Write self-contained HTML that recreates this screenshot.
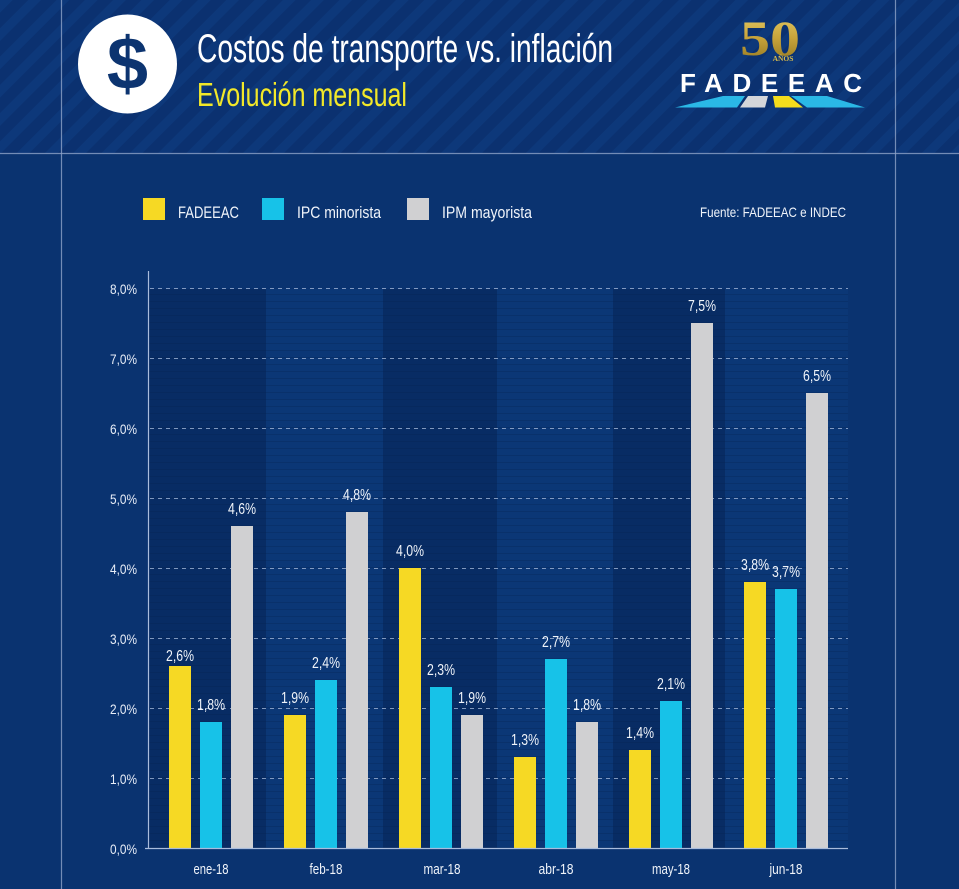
<!DOCTYPE html>
<html><head><meta charset="utf-8">
<style>
html,body{margin:0;padding:0;background:#0a3370;}
svg{display:block;}
text{font-family:"Liberation Sans Narrow","Liberation Sans",sans-serif;}
</style></head>
<body>
<svg width="959" height="889" viewBox="0 0 959 889" xmlns="http://www.w3.org/2000/svg">
<defs>
<pattern id="stripes" patternUnits="userSpaceOnUse" width="20" height="20" patternTransform="rotate(45)">
<rect width="20" height="20" fill="#0b3170"/>
<rect width="9" height="20" fill="#0d387a"/>
</pattern>
<pattern id="scan" patternUnits="userSpaceOnUse" width="10" height="7">
<rect y="0" width="10" height="1" fill="#04204d" opacity="0.25"/>
</pattern>
<linearGradient id="gold" x1="0" y1="0" x2="0" y2="1">
<stop offset="0" stop-color="#e8cf6a"/>
<stop offset="0.5" stop-color="#c7a33a"/>
<stop offset="1" stop-color="#8f7420"/>
</linearGradient>
</defs>
<rect width="959" height="889" fill="#0a3370"/>
<rect width="959" height="153" fill="url(#stripes)"/>
<line x1="0" y1="153.5" x2="959" y2="153.5" stroke="#8ea3c8" stroke-width="1.2" opacity="0.8"/>
<line x1="61.5" y1="0" x2="61.5" y2="889" stroke="#8ea3c8" stroke-width="1.2" opacity="0.8"/>
<line x1="895.5" y1="0" x2="895.5" y2="889" stroke="#8ea3c8" stroke-width="1.2" opacity="0.8"/>

<circle cx="127.5" cy="64" r="49.5" fill="#ffffff"/>
<text x="127.5" y="89" font-weight="bold" font-size="74" fill="#0c3470" text-anchor="middle" style="font-family:'Liberation Sans',sans-serif">$</text>

<text x="197" y="62" font-size="40" fill="#ffffff" textLength="416" lengthAdjust="spacingAndGlyphs">Costos de transporte vs. inflación</text>
<text x="197" y="106" font-size="33" fill="#f2e829" textLength="210" lengthAdjust="spacingAndGlyphs">Evolución mensual</text>

<text x="770" y="55" font-size="50" font-weight="bold" fill="url(#gold)" text-anchor="middle" textLength="60" lengthAdjust="spacingAndGlyphs" style="font-family:'Liberation Serif',serif">50</text>
<text x="783" y="61" font-size="7.5" fill="#d8bb4c" text-anchor="middle" style="font-family:'Liberation Serif',serif;font-weight:bold">AÑOS</text>
<text x="680" y="92" font-size="26" font-weight="bold" fill="#ffffff" textLength="182" lengthAdjust="spacing" style="font-family:'Liberation Sans',sans-serif">FADEEAC</text>
<polygon points="675,107.5 737,107.5 745,96 723,96" fill="#2ab8e6"/>
<polygon points="740,107.5 765,107.5 768,96 748,96" fill="#d4d6da"/>
<polygon points="775,107.5 803,107.5 789,96 773,96" fill="#f4dd1c"/>
<polygon points="807,107.5 865,107.5 827,96 791,96" fill="#2ab8e6"/>

<rect x="143" y="198" width="22" height="22" fill="#f6d924"/>
<text x="178" y="218" font-size="17" fill="#f0f4fa" textLength="61" lengthAdjust="spacingAndGlyphs" style="font-family:'Liberation Sans',sans-serif">FADEEAC</text>
<rect x="262" y="198" width="22" height="22" fill="#17c2e8"/>
<text x="297" y="218" font-size="17" fill="#f0f4fa" textLength="84" lengthAdjust="spacingAndGlyphs" style="font-family:'Liberation Sans',sans-serif">IPC minorista</text>
<rect x="407" y="198" width="22" height="22" fill="#d0d0d2"/>
<text x="442" y="218" font-size="17" fill="#f0f4fa" textLength="90" lengthAdjust="spacingAndGlyphs" style="font-family:'Liberation Sans',sans-serif">IPM mayorista</text>
<text x="846" y="217" font-size="14" fill="#f0f4fa" text-anchor="end" textLength="146" lengthAdjust="spacingAndGlyphs" style="font-family:'Liberation Sans',sans-serif">Fuente: FADEEAC e INDEC</text>

<rect x="148" y="289" width="118" height="559" fill="#082c64"/>
<rect x="266" y="289" width="117" height="559" fill="#0b3776"/>
<rect x="383" y="289" width="114" height="559" fill="#082c64"/>
<rect x="497" y="289" width="116" height="559" fill="#0b3776"/>
<rect x="613" y="289" width="112" height="559" fill="#082c64"/>
<rect x="725" y="289" width="123" height="559" fill="#0b3776"/>
<rect x="148" y="289" width="700" height="559" fill="url(#scan)"/>

<g stroke="#a9bcdc" stroke-width="1" stroke-dasharray="4 4" opacity="0.75">
<line x1="150" y1="288.5" x2="848" y2="288.5"/>
<line x1="150" y1="358.5" x2="848" y2="358.5"/>
<line x1="150" y1="428.5" x2="848" y2="428.5"/>
<line x1="150" y1="498.5" x2="848" y2="498.5"/>
<line x1="150" y1="568.5" x2="848" y2="568.5"/>
<line x1="150" y1="638.5" x2="848" y2="638.5"/>
<line x1="150" y1="708.5" x2="848" y2="708.5"/>
<line x1="150" y1="778.5" x2="848" y2="778.5"/>
</g>

<g font-size="14" fill="#e8eef8" text-anchor="end">
<text x="137" y="294" textLength="27" lengthAdjust="spacingAndGlyphs">8,0%</text>
<text x="137" y="364" textLength="27" lengthAdjust="spacingAndGlyphs">7,0%</text>
<text x="137" y="434" textLength="27" lengthAdjust="spacingAndGlyphs">6,0%</text>
<text x="137" y="504" textLength="27" lengthAdjust="spacingAndGlyphs">5,0%</text>
<text x="137" y="574" textLength="27" lengthAdjust="spacingAndGlyphs">4,0%</text>
<text x="137" y="644" textLength="27" lengthAdjust="spacingAndGlyphs">3,0%</text>
<text x="137" y="714" textLength="27" lengthAdjust="spacingAndGlyphs">2,0%</text>
<text x="137" y="784" textLength="27" lengthAdjust="spacingAndGlyphs">1,0%</text>
<text x="137" y="854" textLength="27" lengthAdjust="spacingAndGlyphs">0,0%</text>
</g>

<g>
<rect x="169" y="666" width="22" height="182" fill="#f6d924"/>
<rect x="200" y="722" width="22" height="126" fill="#17c2e8"/>
<rect x="231" y="526" width="22" height="322" fill="#d0d0d2"/>
<rect x="284" y="715" width="22" height="133" fill="#f6d924"/>
<rect x="315" y="680" width="22" height="168" fill="#17c2e8"/>
<rect x="346" y="512" width="22" height="336" fill="#d0d0d2"/>
<rect x="399" y="568" width="22" height="280" fill="#f6d924"/>
<rect x="430" y="687" width="22" height="161" fill="#17c2e8"/>
<rect x="461" y="715" width="22" height="133" fill="#d0d0d2"/>
<rect x="514" y="757" width="22" height="91" fill="#f6d924"/>
<rect x="545" y="659" width="22" height="189" fill="#17c2e8"/>
<rect x="576" y="722" width="22" height="126" fill="#d0d0d2"/>
<rect x="629" y="750" width="22" height="98" fill="#f6d924"/>
<rect x="660" y="701" width="22" height="147" fill="#17c2e8"/>
<rect x="691" y="323" width="22" height="525" fill="#d0d0d2"/>
<rect x="744" y="582" width="22" height="266" fill="#f6d924"/>
<rect x="775" y="589" width="22" height="259" fill="#17c2e8"/>
<rect x="806" y="393" width="22" height="455" fill="#d0d0d2"/>
</g>

<g font-size="16" fill="#f0f4fa" text-anchor="middle">
<text x="180" y="661" textLength="28" lengthAdjust="spacingAndGlyphs">2,6%</text>
<text x="211" y="710" textLength="28" lengthAdjust="spacingAndGlyphs">1,8%</text>
<text x="242" y="514" textLength="28" lengthAdjust="spacingAndGlyphs">4,6%</text>
<text x="295" y="703" textLength="28" lengthAdjust="spacingAndGlyphs">1,9%</text>
<text x="326" y="668" textLength="28" lengthAdjust="spacingAndGlyphs">2,4%</text>
<text x="357" y="500" textLength="28" lengthAdjust="spacingAndGlyphs">4,8%</text>
<text x="410" y="556" textLength="28" lengthAdjust="spacingAndGlyphs">4,0%</text>
<text x="441" y="675" textLength="28" lengthAdjust="spacingAndGlyphs">2,3%</text>
<text x="472" y="703" textLength="28" lengthAdjust="spacingAndGlyphs">1,9%</text>
<text x="525" y="745" textLength="28" lengthAdjust="spacingAndGlyphs">1,3%</text>
<text x="556" y="647" textLength="28" lengthAdjust="spacingAndGlyphs">2,7%</text>
<text x="587" y="710" textLength="28" lengthAdjust="spacingAndGlyphs">1,8%</text>
<text x="640" y="738" textLength="28" lengthAdjust="spacingAndGlyphs">1,4%</text>
<text x="671" y="689" textLength="28" lengthAdjust="spacingAndGlyphs">2,1%</text>
<text x="702" y="311" textLength="28" lengthAdjust="spacingAndGlyphs">7,5%</text>
<text x="755" y="570" textLength="28" lengthAdjust="spacingAndGlyphs">3,8%</text>
<text x="786" y="577" textLength="28" lengthAdjust="spacingAndGlyphs">3,7%</text>
<text x="817" y="381" textLength="28" lengthAdjust="spacingAndGlyphs">6,5%</text>
</g>

<line x1="148.5" y1="271" x2="148.5" y2="849" stroke="#a9bcdc" stroke-width="1.2"/>
<line x1="145" y1="848.5" x2="848" y2="848.5" stroke="#a9bcdc" stroke-width="1.2"/>

<g font-size="15" fill="#f0f4fa" text-anchor="middle">
<text x="211" y="874" textLength="35" lengthAdjust="spacingAndGlyphs">ene-18</text>
<text x="326" y="874" textLength="33" lengthAdjust="spacingAndGlyphs">feb-18</text>
<text x="442" y="874" textLength="37" lengthAdjust="spacingAndGlyphs">mar-18</text>
<text x="556" y="874" textLength="35" lengthAdjust="spacingAndGlyphs">abr-18</text>
<text x="671" y="874" textLength="38" lengthAdjust="spacingAndGlyphs">may-18</text>
<text x="786" y="874" textLength="33" lengthAdjust="spacingAndGlyphs">jun-18</text>
</g>
</svg>
</body></html>
